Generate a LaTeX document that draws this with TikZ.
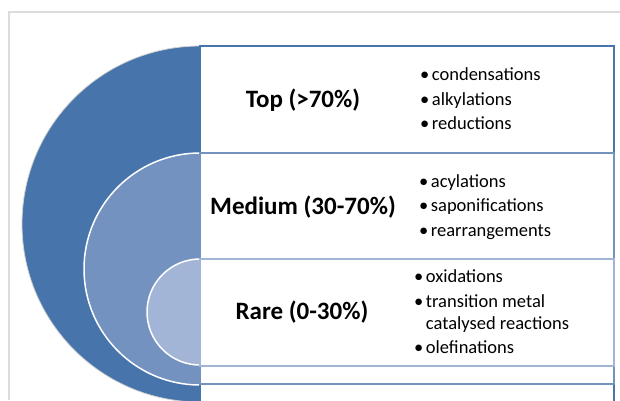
\documentclass[tikz,border=0pt]{standalone}
\usepackage{fontspec}
\setmainfont{Carlito}
\definecolor{ringdark}{RGB}{70,116,171}
\definecolor{ringmid}{RGB}{115,146,192}
\definecolor{ringlight}{RGB}{163,181,214}
\definecolor{framegray}{RGB}{220,220,220}
\tikzset{
  panel/.style={line width=1.6pt,fill=white},
  ring/.style={draw=white,line width=1.5pt},
  lbl/.style={font=\fontsize{25}{30}\selectfont\bfseries},
  items/.style={anchor=west,align=left,inner sep=0pt,font=\fontsize{18.5}{24.5}\selectfont}
}
\newcommand{\itm}{\textbullet\hspace{2.5pt}}

\begin{document}
\begin{tikzpicture}[x=1pt,y=-1pt]
\useasboundingbox (0,0) rectangle (620,400);
\draw[framegray,line width=1.2pt] (9,400) -- (9,12) -- (620,12);

% the three half rings
\filldraw[fill=ringdark,draw=gray!35,line width=0.8pt] (200,46) arc[start angle=270,end angle=90,radius=178] -- cycle;
\filldraw[ring,fill=ringmid] (200,153) arc[start angle=270,end angle=90,radius=116] -- cycle;
\filldraw[ring,fill=ringlight] (200,259) arc[start angle=270,end angle=90,radius=53] -- cycle;

% the panels
\draw[panel,draw=ringdark] (200,46) rectangle (614,402);
\draw[panel,draw=ringmid] (200,153) rectangle (614,384);
\draw[panel,draw=ringlight] (200,259) rectangle (614,366);

\node[lbl] (top) at (303,100) {Top (>70\%)};
\node[items] (toplist) at (420,99) {\itm condensations\\ \itm alkylations\\ \itm reductions};

\node[lbl] (medium) at (303,207) {Medium (30-70\%)};
\node[items] (medlist) at (419,207) {\itm acylations\\ \itm saponifications\\ \itm rearrangements};

\node[lbl] (rare) at (302,312) {Rare (0-30\%)};
\node[items,font=\fontsize{18.5}{22}\selectfont] (rarelist) at (414,312) {\itm oxidations\\[2.5pt] \itm transition metal\\ \phantom{\itm}catalysed reactions\\[2.5pt] \itm olefinations};
\end{tikzpicture}
\end{document}
